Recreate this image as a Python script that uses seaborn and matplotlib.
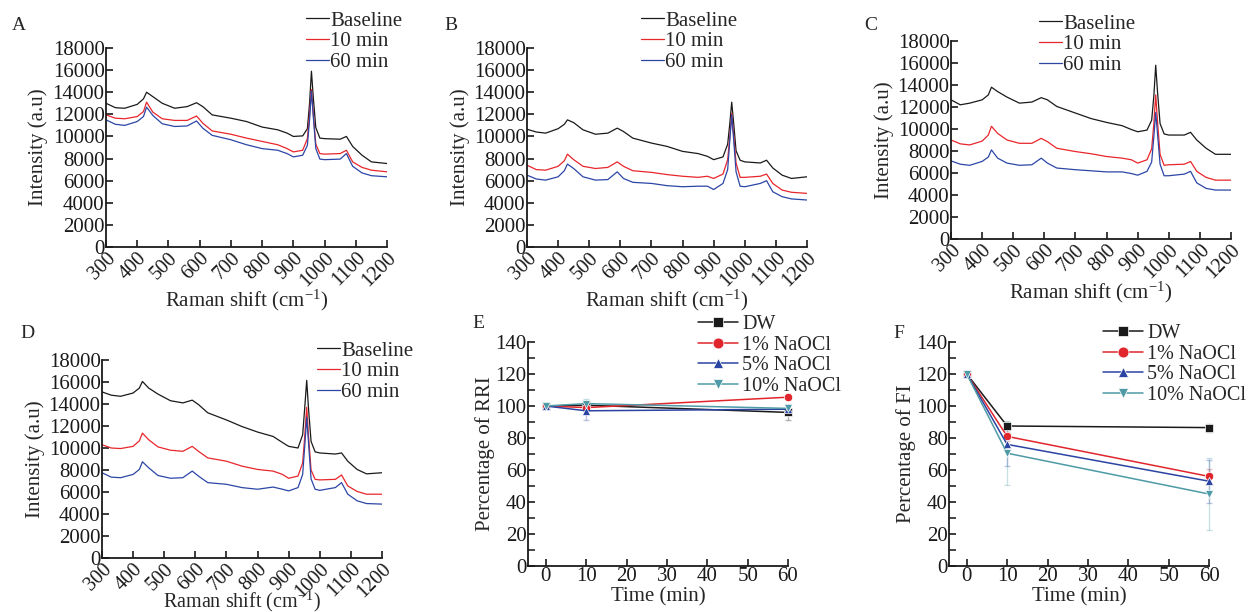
import numpy as np
import pandas as pd
import matplotlib
matplotlib.use("Agg")
import matplotlib.pyplot as plt
from matplotlib.ticker import MultipleLocator
import seaborn as sns

W, H = 1254, 612

# Raman spectra
raman_shift = [300, 330, 360, 400, 420, 430, 450, 480, 520, 560, 590, 610, 640, 700, 750,
               800, 850, 880, 900, 930, 945, 952, 958, 964, 972, 985, 1000, 1050, 1070,
               1090, 1120, 1150, 1200]

a_baseline = [13000, 12600, 12550, 12900, 13400, 14000, 13600, 13000, 12550, 12700, 13050, 12700,
              11950, 11650, 11350, 10850, 10600, 10300, 10000, 10050, 10700, 13000, 15900, 13500,
              10800, 9850, 9800, 9750, 10000, 9100, 8300, 7700, 7550]
a_10min = [11950, 11650, 11600, 11800, 12250, 13100, 12200, 11600, 11450, 11450, 11850, 11200,
           10500, 10200, 9850, 9550, 9250, 8900, 8600, 8750, 9800, 12000, 14250, 12000,
           9300, 8450, 8400, 8450, 8750, 7700, 7200, 6950, 6800]
a_60min = [11500, 11100, 11000, 11350, 11800, 12650, 11900, 11150, 10900, 10950, 11400, 10750,
           10100, 9700, 9250, 8900, 8750, 8450, 8150, 8300, 9200, 11500, 14100, 11800,
           8900, 7950, 7900, 7950, 8450, 7300, 6700, 6450, 6350]

b_baseline = [10650, 10400, 10300, 10700, 11100, 11500, 11250, 10600, 10200, 10300, 10750, 10450,
              9850, 9400, 9100, 8650, 8450, 8200, 7900, 8150, 9300, 11200, 13100, 11300,
              8700, 7850, 7700, 7600, 7850, 7150, 6500, 6200, 6350]
b_10min = [7400, 7000, 6950, 7300, 7800, 8400, 7900, 7300, 7100, 7200, 7700, 7300,
           6900, 6750, 6550, 6400, 6300, 6400, 6200, 6600, 7900, 10000, 12100, 10200,
           7600, 6300, 6300, 6400, 6600, 5750, 5150, 4950, 4850]
b_60min = [6500, 6150, 6050, 6350, 6900, 7500, 7100, 6350, 6050, 6100, 6800, 6200,
           5850, 5750, 5550, 5450, 5500, 5500, 5200, 5750, 7000, 9700, 11950, 9800,
           6800, 5500, 5450, 5750, 6000, 5000, 4550, 4350, 4250]

c_baseline = [12650, 12200, 12350, 12650, 13100, 13800, 13400, 12900, 12350, 12450, 12850, 12650,
              12050, 11450, 10950, 10600, 10300, 9950, 9750, 9900, 10800, 13000, 15800, 13300,
              10500, 9550, 9450, 9450, 9700, 9000, 8250, 7700, 7700]
c_10min = [9000, 8650, 8550, 8900, 9450, 10250, 9600, 9000, 8700, 8700, 9150, 8850,
           8250, 7950, 7750, 7500, 7350, 7200, 6900, 7200, 8200, 10500, 13100, 10600,
           7700, 6700, 6750, 6800, 7050, 6150, 5600, 5350, 5350]
c_60min = [7100, 6800, 6700, 7050, 7450, 8100, 7350, 6900, 6700, 6750, 7350, 6900,
           6450, 6300, 6200, 6100, 6100, 5950, 5800, 6150, 7000, 9300, 11500, 9500,
           6800, 5750, 5750, 5900, 6150, 5100, 4600, 4450, 4450]

d_baseline = [15100, 14800, 14700, 15000, 15450, 16050, 15450, 14900, 14300, 14100, 14350, 13950,
              13200, 12550, 11950, 11450, 11050, 10500, 10150, 10000, 11200, 13800, 16150, 13500,
              10600, 9650, 9550, 9450, 9550, 8800, 8050, 7650, 7750]
d_10min = [10300, 10000, 9950, 10150, 10650, 11350, 10750, 10100, 9800, 9700, 10150, 9700,
           9100, 8800, 8350, 8050, 7900, 7600, 7250, 7450, 8650, 11200, 13700, 11000,
           8000, 7150, 7100, 7150, 7550, 6550, 6050, 5800, 5800]
d_60min = [7750, 7350, 7300, 7600, 8050, 8750, 8200, 7500, 7250, 7300, 7900, 7450,
           6850, 6700, 6400, 6250, 6450, 6250, 6100, 6400, 7600, 10300, 12800, 10400,
           7200, 6250, 6150, 6400, 6850, 5800, 5200, 4950, 4900]

spectrum_labels = ["Baseline", "10 min", "60 min"]
spectrum_colors = ["#1a1a1a", "#e8262b", "#2c46a6"]

# Time course panels
time_min = [0, 10, 60]
groups = ["DW", "1% NaOCl", "5% NaOCl", "10% NaOCl"]
rri_mean = {"DW": [100, 100.5, 96], "1% NaOCl": [100, 99, 105.5],
            "5% NaOCl": [100, 97, 98], "10% NaOCl": [100, 101.5, 98.5]}
rri_sd = {"DW": [0.5, 1.5, 4.5], "1% NaOCl": [0.5, 1.5, 2],
          "5% NaOCl": [0.5, 6, 3], "10% NaOCl": [0.5, 3, 2]}
fi_mean = {"DW": [120, 87.5, 86.5], "1% NaOCl": [120, 81, 56],
           "5% NaOCl": [120, 76, 53], "10% NaOCl": [120, 70.5, 45]}
fi_sd = {"DW": [0.5, 2.5, 2.5], "1% NaOCl": [0.5, 3, 4.5],
         "5% NaOCl": [0.5, 13.5, 13.5], "10% NaOCl": [0.5, 20, 22.5]}

group_colors = {"DW": "#1a1a1a", "1% NaOCl": "#e0262c", "5% NaOCl": "#2b44a3", "10% NaOCl": "#4e9aa6"}
group_markers = {"DW": "s", "1% NaOCl": "o", "5% NaOCl": "^", "10% NaOCl": "v"}

sns.set_theme(style="ticks")
plt.rcParams["font.family"] = ["Liberation Serif", "DejaVu Serif"]
plt.rcParams["mathtext.fontset"] = "stix"
plt.rcParams["axes.linewidth"] = 1.3
plt.rcParams["axes.edgecolor"] = "#1a1a1a"
plt.rcParams["xtick.direction"] = "in"
plt.rcParams["ytick.direction"] = "in"
plt.rcParams["xtick.major.width"] = 1.2
plt.rcParams["ytick.major.width"] = 1.2
plt.rcParams["ytick.minor.width"] = 1.2
plt.rcParams["xtick.major.size"] = 5
plt.rcParams["ytick.major.size"] = 5
plt.rcParams["ytick.minor.size"] = 5

fig = plt.figure(figsize=(W / 100, H / 100), dpi=100)
fig.patch.set_facecolor("white")


def px_rect(x0, y_top, x1, y_bot):
    return [x0 / W, 1 - y_bot / H, (x1 - x0) / W, (y_bot - y_top) / H]


def spectrum_panel(rect, series, letter, letter_xy, leg_xy, xlab_y, xlab_size=15):
    ax = fig.add_axes(px_rect(*rect))
    df = pd.DataFrame({"shift": raman_shift})
    for lab, vals in zip(spectrum_labels, series):
        df[lab] = vals
    long = df.melt(id_vars="shift", var_name="series", value_name="intensity")
    sns.lineplot(data=long, x="shift", y="intensity", hue="series",
                 palette=dict(zip(spectrum_labels, spectrum_colors)),
                 linewidth=0.9, ax=ax)
    ax.set_xlim(300, 1200)
    ax.set_ylim(0, 18000)
    ax.set_xticks(range(300, 1201, 100))
    ax.set_yticks(range(0, 18001, 2000))
    ax.tick_params(axis="y", labelsize=15, pad=1, colors="#1a1a1a")
    ax.tick_params(axis="x", labelsize=14.5, pad=1, colors="#1a1a1a")
    plt.setp(ax.get_xticklabels(), rotation=45, ha="right", rotation_mode="anchor")
    ax.set_xlabel("Raman shift (cm$^{\\mathregular{-1}}$)", fontsize=xlab_size)
    ax.set_ylabel("Intensity (a.u)", fontsize=15)
    ax.xaxis.set_label_coords(0.5, xlab_y)
    ax.yaxis.set_label_coords(-0.205, 0.5)
    sns.despine(ax=ax)
    handles, labels = ax.get_legend_handles_labels()
    ax.legend(handles, labels, loc="upper left", frameon=False, fontsize=15,
              bbox_to_anchor=(leg_xy[0] / W, 1 - leg_xy[1] / H),
              bbox_transform=fig.transFigure, borderpad=0, borderaxespad=0,
              handlelength=1.1, handletextpad=0.05, labelspacing=0.06)
    fig.text(letter_xy[0] / W, 1 - letter_xy[1] / H, letter, fontsize=14,
             ha="left", va="center")
    return ax


spectrum_panel((106, 48, 387, 247), [a_baseline, a_10min, a_60min], "A", (12, 26), (306, 11), -0.205)
spectrum_panel((527, 48, 807, 247), [b_baseline, b_10min, b_60min], "B", (444, 26), (641, 11), -0.205)
spectrum_panel((951, 41, 1231, 239), [c_baseline, c_10min, c_60min], "C", (864, 26), (1039, 14), -0.205)
spectrum_panel((102, 360, 382, 558), [d_baseline, d_10min, d_60min], "D", (20, 334), (317, 341),
               -0.155, xlab_size=14.5)


def time_panel(rect, means, sds, ylabel, letter, letter_xy, leg_xy):
    ax = fig.add_axes(px_rect(*rect))
    rows = []
    for g in groups:
        for t, m in zip(time_min, means[g]):
            rows.append({"time": t, "value": m, "group": g})
    df = pd.DataFrame(rows)
    for g in groups:
        ax.errorbar(time_min, means[g], yerr=sds[g], fmt="none",
                    ecolor=group_colors[g], alpha=0.3, elinewidth=1.0,
                    capsize=2, clip_on=False)
    sns.lineplot(data=df, x="time", y="value", hue="group", style="group",
                 palette=group_colors, markers=group_markers, dashes=False,
                 markersize=6, markeredgewidth=0.5, linewidth=1.1,
                 hue_order=groups, style_order=groups, ax=ax)
    for line in ax.lines:
        line.set_clip_on(False)
    ax.set_xlim(-4.4, 60)
    ax.set_ylim(0, 140)
    ax.set_xticks(range(0, 61, 10))
    ax.yaxis.set_major_locator(MultipleLocator(20))
    ax.yaxis.set_minor_locator(MultipleLocator(10))
    ax.tick_params(axis="both", labelsize=15, pad=1, colors="#1a1a1a")
    ax.set_xlabel("Time (min)", fontsize=15)
    ax.set_ylabel(ylabel, fontsize=15)
    ax.xaxis.set_label_coords(0.5, -0.094)
    ax.yaxis.set_label_coords(-0.127, 0.5)
    sns.despine(ax=ax)
    handles, labels = ax.get_legend_handles_labels()
    ax.legend(handles, labels, loc="upper left", frameon=False, fontsize=14.5,
              bbox_to_anchor=(leg_xy[0] / W, 1 - leg_xy[1] / H),
              bbox_transform=fig.transFigure, borderpad=0, borderaxespad=0,
              handlelength=2.0, handletextpad=0.2, labelspacing=0.07,
              markerscale=1.3)
    fig.text(letter_xy[0] / W, 1 - letter_xy[1] / H, letter, fontsize=14,
             ha="left", va="center")
    return ax


time_panel((528, 342, 788, 566), rri_mean, rri_sd, "Percentage of RRI", "E", (472, 323), (698, 315))
time_panel((949, 342, 1209, 566), fi_mean, fi_sd, "Percentage of FI", "F", (893, 333), (1103, 324))

fig.savefig("out.png", dpi=100, facecolor="white")
